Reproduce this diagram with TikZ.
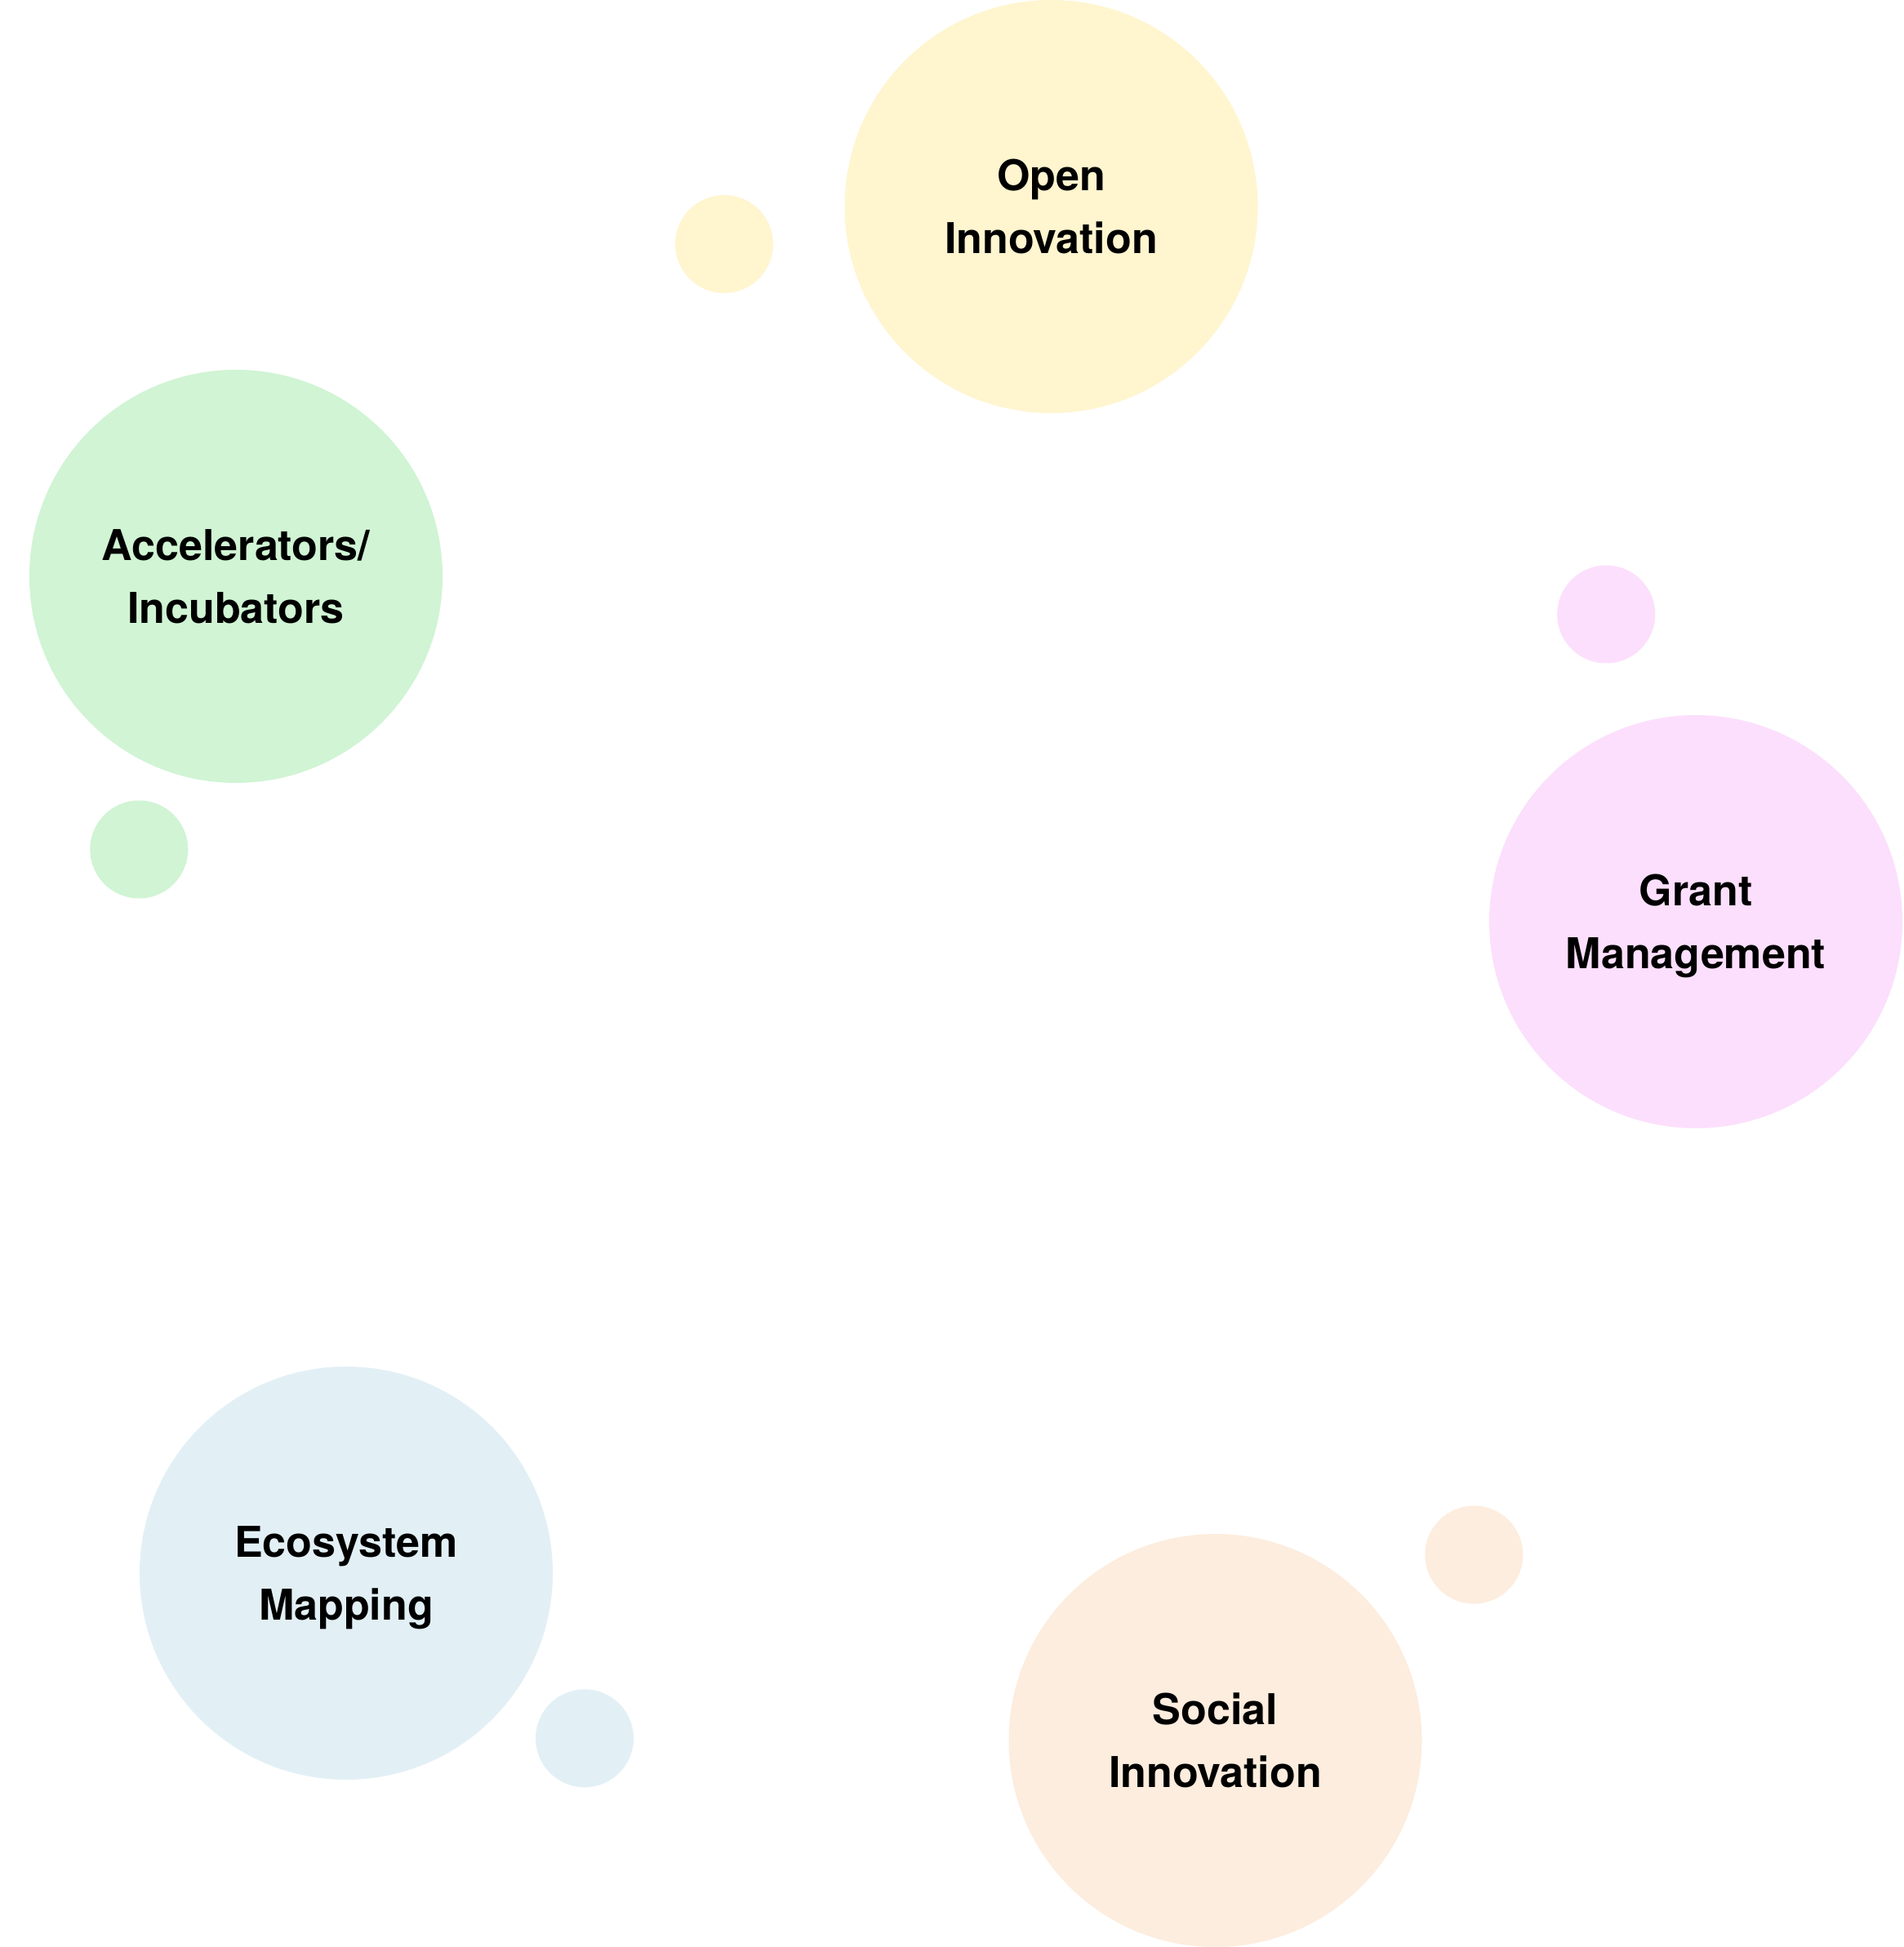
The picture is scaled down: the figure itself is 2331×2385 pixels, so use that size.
\documentclass[tikz,border=0pt]{standalone}
\usepackage{fontspec}
\setmainfont{TeX Gyre Heros}
\definecolor{cYellow}{HTML}{FFF5CF}
\definecolor{cGreen}{HTML}{D0F4D4}
\definecolor{cPink}{HTML}{FCDFFC}
\definecolor{cBlue}{HTML}{E2F0F6}
\definecolor{cOrange}{HTML}{FDEDDE}
\newcommand\lnst{\rule[-9.9pt]{0pt}{38.5pt}}
\begin{document}
\begin{tikzpicture}[x=0.5pt,y=-0.5pt,
  big/.style={circle, minimum size=253pt, inner sep=0pt, draw=none},
  small/.style={circle, minimum size=60pt, inner sep=0pt, draw=none},
  lbl/.style={align=center, inner sep=0pt, text=black,
    font=\fontsize{26}{38.5}\selectfont\bfseries}]
\fill[white] (0,0) rectangle (2331,2385);
\useasboundingbox (0,0) rectangle (2331,2385);
% big circles
\node[big, fill=cYellow] (open) at (1287.5,253) {};
\node[big, fill=cGreen]  (acc)  at (289,706) {};
\node[big, fill=cPink]   (grant) at (2077,1129) {};
\node[big, fill=cBlue]   (eco)  at (424,1927) {};
\node[big, fill=cOrange] (soc)  at (1488.5,2132) {};
% small circles
\node[small, fill=cYellow] (openS)  at (887,299) {};
\node[small, fill=cGreen]  (accS)   at (170.3,1040.5) {};
\node[small, fill=cPink]   (grantS) at (1967.2,752.5) {};
\node[small, fill=cBlue]   (ecoS)   at (716,2129.3) {};
\node[small, fill=cOrange] (socS)   at (1805.3,1904.5) {};
% labels
\node[lbl] (openT)  at (open.center)  {\lnst Open\\\lnst Innovation};
\node[lbl] (accT)   at (acc.center)   {\lnst Accelerators/\\\lnst Incubators};
\node[lbl] (grantT) at (grant.center) {\lnst Grant\\\lnst Management};
\node[lbl] (ecoT)   at (eco.center)   {\lnst Ecosystem\\\lnst Mapping};
\node[lbl] (socT)   at (soc.center)   {\lnst Social\\\lnst Innovation};
\end{tikzpicture}
\end{document}
